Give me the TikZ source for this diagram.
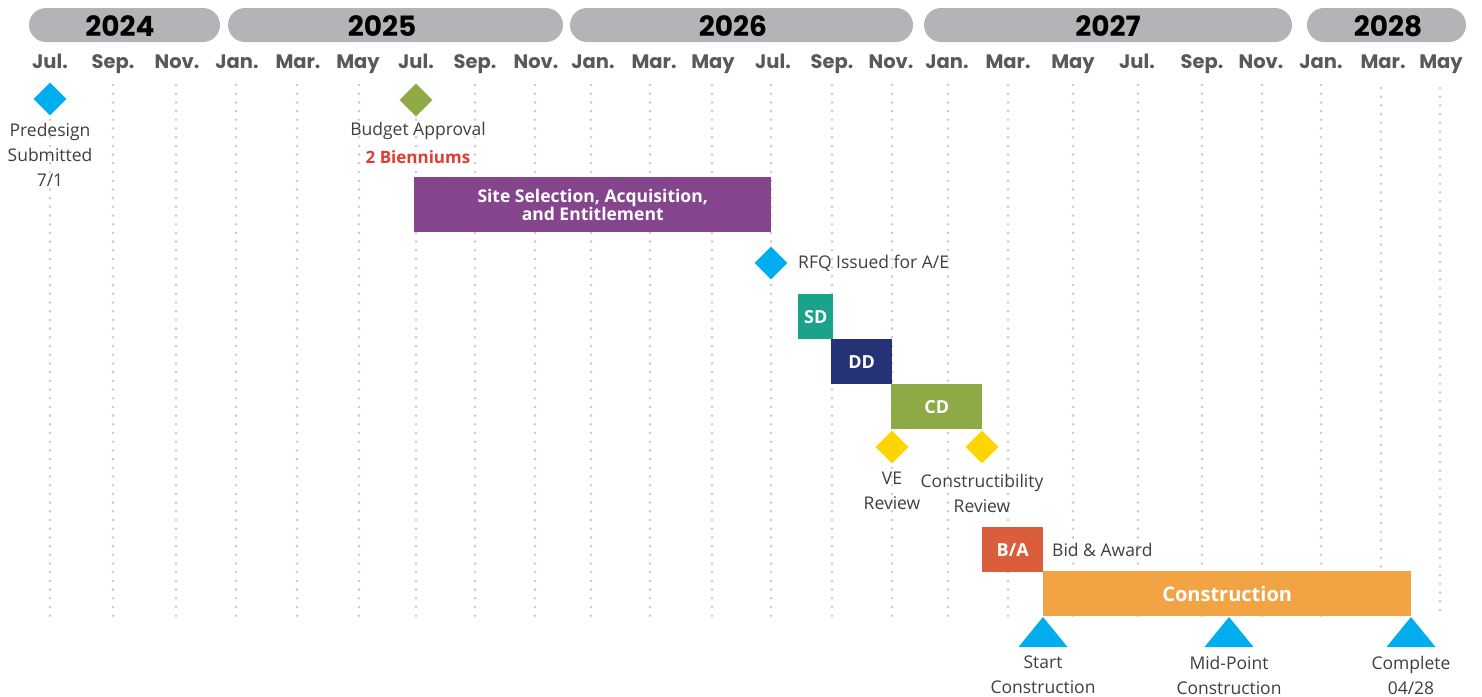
\documentclass[tikz,border=0pt]{standalone}
\usepackage{fontspec}
\setmainfont{Open Sans}
\newfontfamily\hdrfont{Poppins}
\usetikzlibrary{shapes.geometric}
\definecolor{yearbar}{HTML}{B3B4B7}
\definecolor{monthgray}{HTML}{58595B}
\definecolor{dotgray}{HTML}{C8C9CB}
\definecolor{txtgray}{HTML}{3F3F3F}
\definecolor{msblue}{HTML}{00AEEF}
\definecolor{msgreen}{HTML}{8FAA45}
\definecolor{msyellow}{HTML}{FFD500}
\definecolor{redtxt}{HTML}{E03C31}
\definecolor{sitepurple}{HTML}{84458C}
\definecolor{sdteal}{HTML}{1BA28A}
\definecolor{ddnavy}{HTML}{253276}
\definecolor{cdgreen}{HTML}{8EAA46}
\definecolor{baorange}{HTML}{DA5E3C}
\definecolor{conorange}{HTML}{F2A444}
\tikzset{
  yeartext/.style={font=\hdrfont\bfseries\fontsize{28}{28}\selectfont, text=black, inner sep=0, anchor=base},
  monthtext/.style={font=\hdrfont\bfseries\fontsize{19.5}{20}\selectfont, text=monthgray, inner sep=0, anchor=base},
  gridline/.style={dotgray, line width=2.8pt, line cap=round, dash pattern=on 0pt off 8.7pt},
  milestone/.style={diamond, aspect=1, minimum width=33pt, minimum height=33pt, inner sep=0pt},
  lbl/.style={font=\fontsize{17.5}{25}\selectfont, text=txtgray, align=center, inner sep=0},
  barbox/.style={anchor=north west, inner sep=0pt, text=white, align=center, font=\bfseries\fontsize{17.5}{18.5}\selectfont},
  smallbox/.style={barbox, font=\fontsize{18}{18}\selectfont\bfseries, minimum height=45pt},
}
\begin{document}
\begin{tikzpicture}[x=1pt,y=-1pt]
\useasboundingbox (0,0) rectangle (1482,696);
% dotted month lines
\foreach \mx/\ys in {50/85,113/85,176/85,236/85,297/85,359/85,416/85,475/85,535/85,591/85,650/85,712/85,771/85,832/85,892/85,948/85,1008/85,1073/85,1138/85,1202/85,1262/85,1321/85,1381/88,1440/88}{
  \draw[gridline] (\mx,\ys) -- (\mx,618);
}
% year bars
\fill[yearbar, rounded corners=17pt] (29,8) rectangle (220,42);
\fill[yearbar, rounded corners=17pt] (228,8) rectangle (563,42);
\fill[yearbar, rounded corners=17pt] (570,8) rectangle (913,42);
\fill[yearbar, rounded corners=17pt] (924,8) rectangle (1292,42);
\fill[yearbar, rounded corners=17pt] (1307,8) rectangle (1466,42);
\node[yeartext] (y2024) at (120,36) {2024};
\node[yeartext] (y2025) at (382,36) {2025};
\node[yeartext] (y2026) at (733,36) {2026};
\node[yeartext] (y2027) at (1108,36) {2027};
\node[yeartext] (y2028) at (1388,36) {2028};
% month labels
\foreach \mx/\mn/\id in {50/Jul./a,113/Sep./b,177/Nov./c,237/Jan./d,298/Mar./e,358/May/f,416/Jul./g,475/Sep./h,536/Nov./i,593/Jan./j,654/Mar./k,713/May/l,773/Jul./m,832/Sep./n,891/Nov./o,947/Jan./p,1008/Mar./q,1073/May/r,1137/Jul./s,1202/Sep./t,1261/Nov./u,1321/Jan./v,1383/Mar./w,1441/May/x}{
  \node[monthtext] (m\id) at (\mx,68) {\mn};
}
% predesign
\node[milestone, fill=msblue] (pre) at (50,99) {};
\node[lbl] (pretxt) at (50,155) {Predesign\\Submitted\\7/1};
% budget approval
\node[milestone, fill=msgreen] (bud) at (416,100) {};
\node[lbl] (budtxt) at (418,131) {Budget Approval};
\node[lbl, font=\bfseries\fontsize{17}{20}\selectfont, text=redtxt] (bien) at (418,157) {2 Bienniums};
% site selection
\node[barbox, fill=sitepurple, minimum width=357pt, minimum height=55pt] (site) at (414,177) {Site Selection, Acquisition,\\and Entitlement};
% RFQ
\node[milestone, fill=msblue] (rfq) at (771,263) {};
\node[lbl, anchor=west] (rfqtxt) at (798,263) {RFQ Issued for A/E};
% SD DD CD
\node[smallbox, fill=sdteal, minimum width=35pt] (sd) at (798,294) {SD};
\node[smallbox, fill=ddnavy, minimum width=61pt] (dd) at (831,339) {DD};
\node[smallbox, fill=cdgreen, minimum width=91pt] (cd) at (891,384) {CD};
% reviews
\node[milestone, fill=msyellow] (ve) at (892,447) {};
\node[milestone, fill=msyellow] (con) at (982,447) {};
\node[lbl] (vetxt) at (892,491) {VE\\Review};
\node[lbl] (contxt) at (982,493) {Constructibility\\Review};
% bid and award
\node[smallbox, fill=baorange, minimum width=61pt] (ba) at (982,527) {B/A};
\node[lbl, anchor=west] (batxt) at (1052,550) {Bid \& Award};
% construction
\node[barbox, fill=conorange, minimum width=368pt, minimum height=45pt, font=\bfseries\fontsize{20}{22}\selectfont] (cons) at (1043,571) {Construction};
% triangles
\coordinate (t1) at (1043,617);
\coordinate (t2) at (1229,617);
\coordinate (t3) at (1411,617);
\foreach \t in {t1,t2,t3}{
  \fill[msblue] (\t) -- ++(24.5,30) -- ++(-49,0) -- cycle;
}
\node[lbl] (t1txt) at (1043,675) {Start\\Construction};
\node[lbl] (t2txt) at (1229,675) {Mid-Point\\Construction};
\node[lbl] (t3txt) at (1411,675) {Complete\\04/28};
\end{tikzpicture}
\end{document}
